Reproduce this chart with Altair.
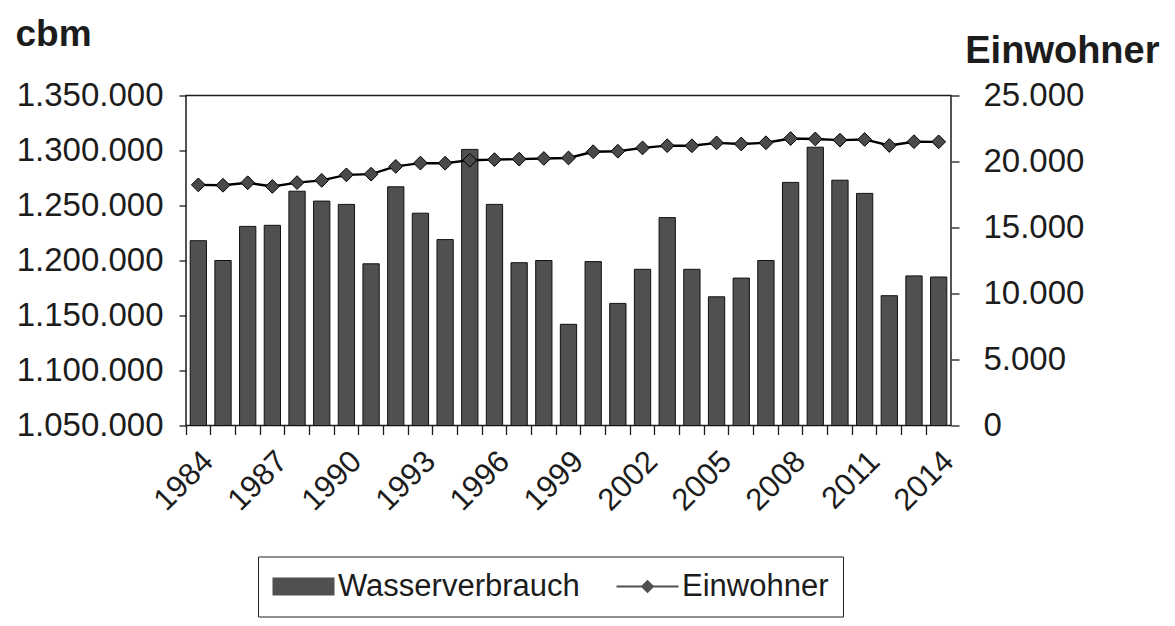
import altair as alt
import pandas as pd

# ---- data ----
years = list(range(1984, 2015))
wasser = [1218000, 1200000, 1231000, 1232000, 1263000, 1254000, 1251000, 1197000,
          1267000, 1243000, 1219000, 1301000, 1251000, 1198000, 1200000, 1142000,
          1199000, 1161000, 1192000, 1239000, 1192000, 1167000, 1184000, 1200000,
          1271000, 1303000, 1273000, 1261000, 1168000, 1186000, 1185000]
einwohner = [18230, 18200, 18390, 18110, 18400, 18570, 18990, 19040, 19630, 19880,
             19870, 20100, 20140, 20180, 20230, 20270, 20740, 20780, 21030, 21200,
             21190, 21410, 21330, 21420, 21740, 21710, 21620, 21670, 21210, 21500,
             21490]
left_ticks = [1050000, 1100000, 1150000, 1200000, 1250000, 1300000, 1350000]
right_ticks = [0, 5000, 10000, 15000, 20000, 25000]
series = ["Wasserverbrauch", "Einwohner"]

df = pd.DataFrame({"Jahr": years, "Wasser": wasser, "Einw": einwohner})
legend_df = pd.DataFrame({"Jahr": [years[0], years[0]], "Wasser": [wasser[0], wasser[0]],
                          "Serie": series})

FONT = "Liberation Sans"
W, H = 765, 330

bar_path = "M-1,-0.29H1V0.29H-1Z"
line_path = "M-1,-0.035H1V0.035H-1Z M0,-0.22L0.22,0L0,0.22L-0.22,0Z"

x_axis = alt.Axis(
    title=None, bandPosition=0, labelOffset=W / len(years) / 2 - 2,
    labelExpr="(datum.value - 1984) % 3 === 0 ? datum.label : ''",
    labelAngle=-45, labelAlign="right", labelBaseline="middle",
    labelFontSize=31, tickSize=9, labelPadding=22, labelColor="#1c1c1c",
)
x_enc = alt.X("Jahr:O", scale=alt.Scale(paddingInner=0, paddingOuter=0), axis=x_axis)

left_axis = alt.Axis(
    values=left_ticks, orient="left",
    labelExpr="format(floor(datum.value/1000000),'d') + '.' + format(floor(datum.value/1000)%1000,'03d') + '.' + format(datum.value%1000,'03d')",
    labelFontSize=33, tickSize=7, labelPadding=16, labelColor="#1c1c1c",
    title="cbm", titleAngle=0, titleAlign="left", titleBaseline="alphabetic",
    titleX=-171, titleY=-50, titleFontSize=37, titleFontWeight="bold", titleColor="#1c1c1c",
)
right_axis = alt.Axis(
    values=right_ticks, orient="right",
    labelExpr="datum.value >= 1000 ? format(floor(datum.value/1000),'d') + '.' + format(datum.value%1000,'03d') : format(datum.value,'d')",
    labelFontSize=33, tickSize=8, labelPadding=24, labelColor="#1c1c1c",
    title="Einwohner", titleAngle=0, titleAlign="right", titleBaseline="alphabetic",
    titleX=208, titleY=-33, titleFontSize=38, titleFontWeight="bold", titleColor="#1c1c1c",
)

y_left = alt.Y("Wasser:Q", scale=alt.Scale(domain=[1050000, 1350000], nice=False, zero=False),
               axis=left_axis)

bars = alt.Chart(df).mark_bar(
    width=alt.RelativeBandSize(0.66), fill="#505050", stroke="#111111", strokeWidth=1
).encode(x=x_enc, y=y_left, y2=alt.datum(1050000))

legend = alt.Legend(
    orient="none", legendX=72, legendY=461, direction="horizontal", title=None,
    symbolSize=3844, clipHeight=32, labelFont=FONT, labelFontSize=31, labelColor="#1c1c1c",
    labelOffset=3, labelLimit=500, columnPadding=36, padding=14, strokeColor="#222222",
    fillColor="white", symbolStrokeColor="black", symbolStrokeWidth=1,
    symbolFillColor="#505050", symbolOpacity=1,
)
legend_layer = alt.Chart(legend_df).mark_point(
    filled=True, color="#505050", stroke="black", strokeWidth=1, opacity=0
).encode(
    x=x_enc, y=y_left,
    shape=alt.Shape("Serie:N", scale=alt.Scale(domain=series, range=[bar_path, line_path]),
                    legend=legend),
)

y_right = alt.Y("Einw:Q", scale=alt.Scale(domain=[0, 25000], nice=False), axis=right_axis)
line = alt.Chart(df).mark_line(color="black", strokeWidth=2.4).encode(x=x_enc, y=y_right)
points = alt.Chart(df).mark_point(
    shape="diamond", filled=True, size=190, fill="#4a4a4a", stroke="black",
    strokeWidth=1, opacity=1
).encode(x=x_enc, y=y_right)

left_group = alt.layer(bars, legend_layer)
right_group = alt.layer(line, points)

chart = alt.layer(left_group, right_group).resolve_scale(y="independent").properties(
    width=W, height=H, autosize="none",
    padding={"left": 178, "top": 87.5, "right": 214, "bottom": 192},
    background="white",
).configure_view(stroke="#1c1c1c", strokeWidth=1.5).configure_axis(
    labelFont=FONT, titleFont=FONT, grid=False, domain=False, tickColor="#1c1c1c",
    tickWidth=1.3,
)

chart.save("out.html", embed_options={"renderer": "svg", "actions": False})
